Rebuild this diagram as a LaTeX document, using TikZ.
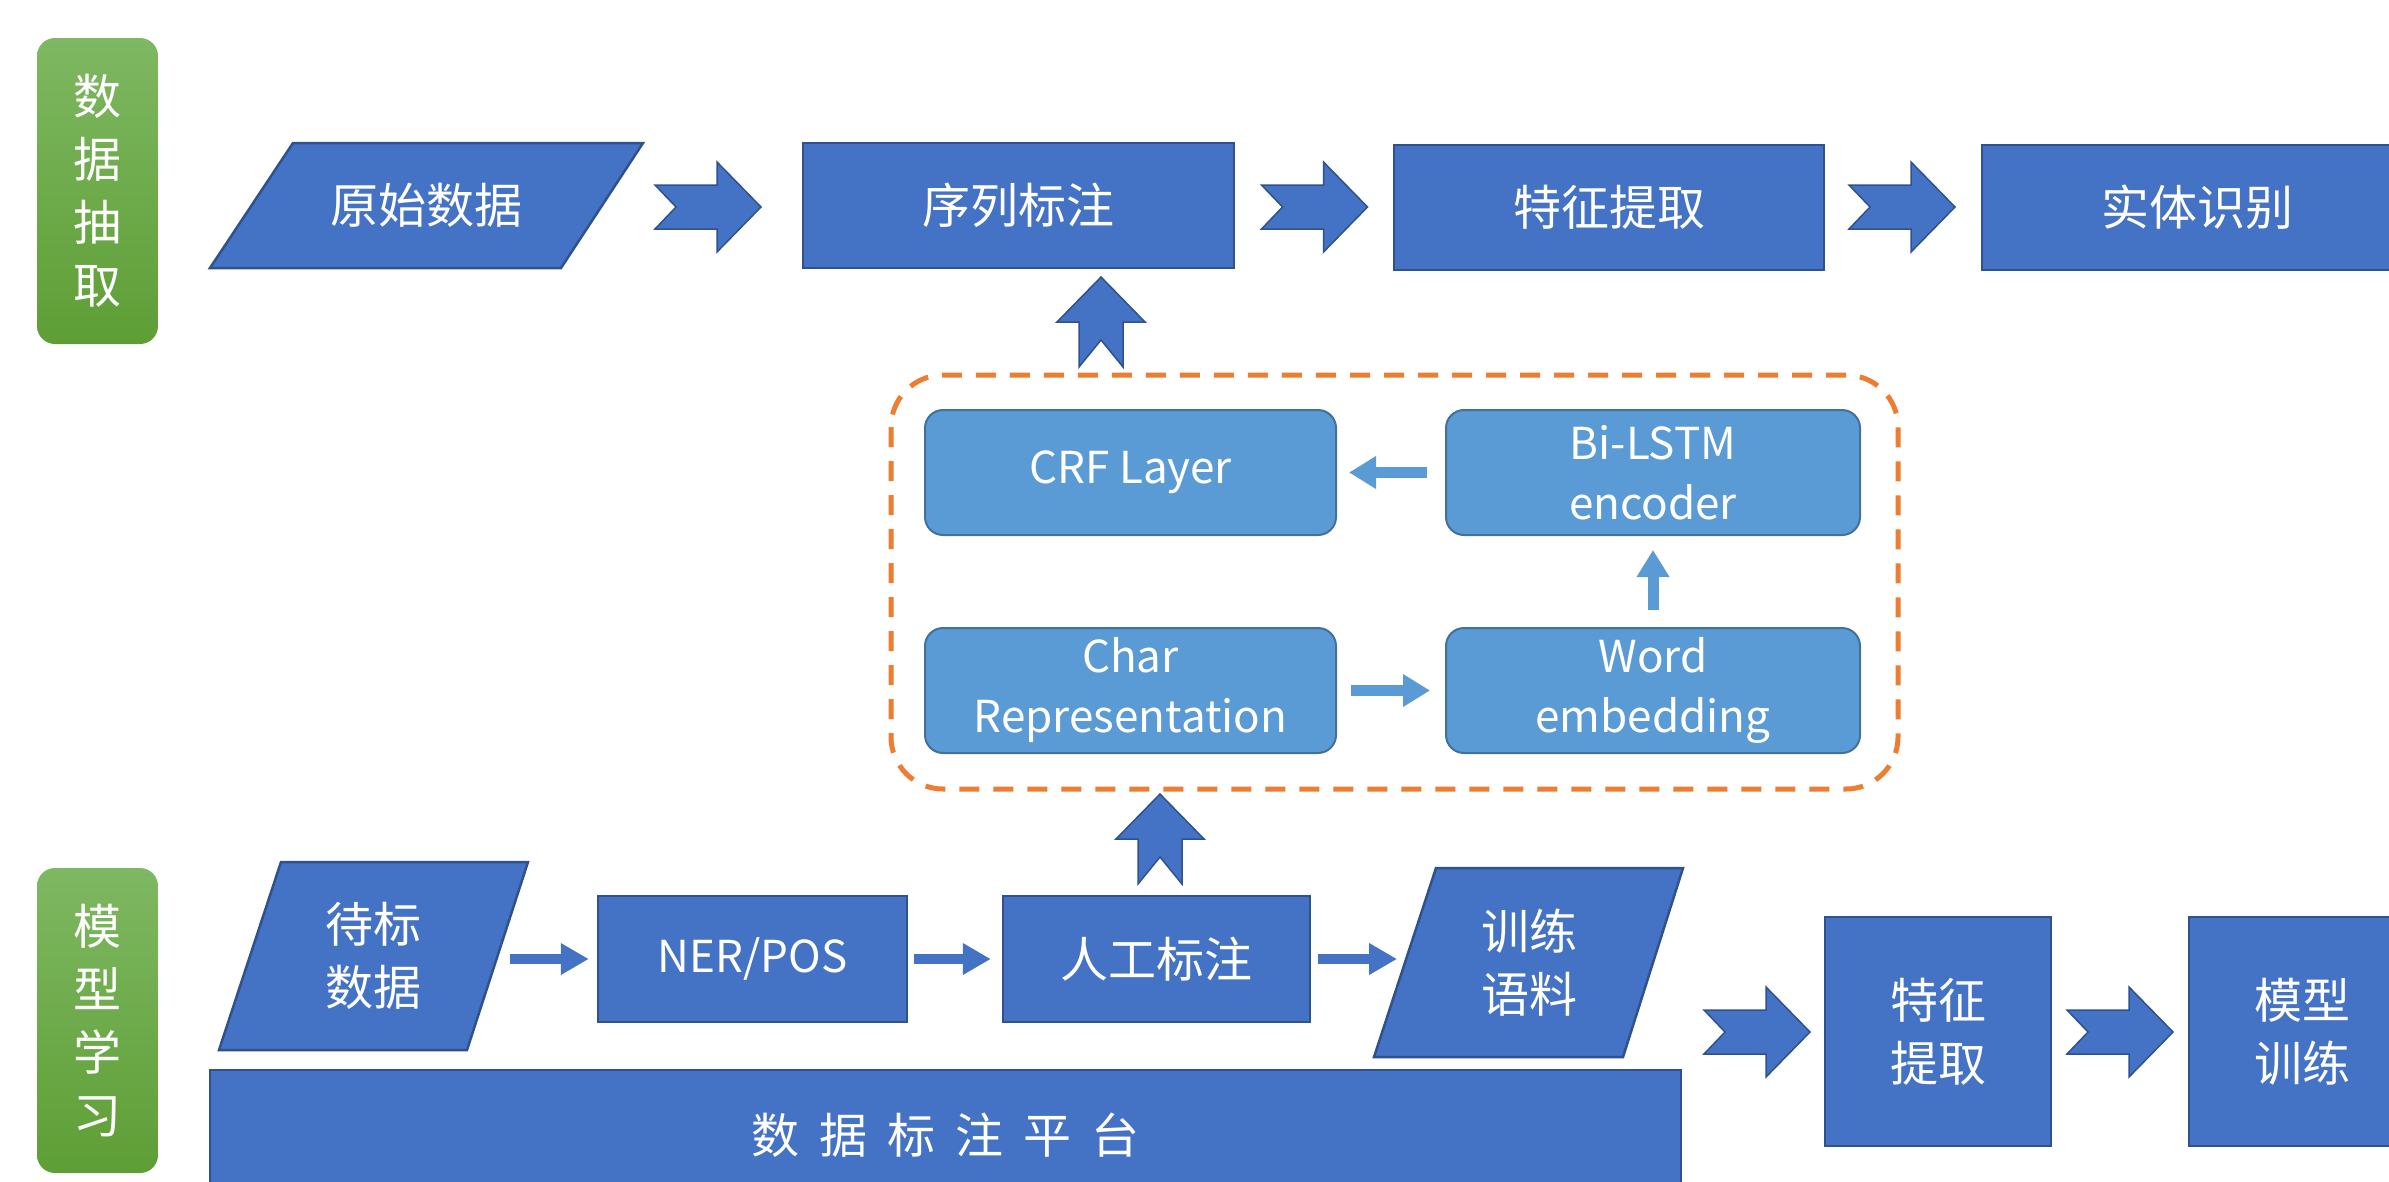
\documentclass[tikz,border=0pt]{standalone}
\usepackage{fontspec}
\setmainfont{Noto Sans CJK SC}
\usetikzlibrary{arrows.meta,calc}
\definecolor{dblue}{HTML}{4472C4}
\definecolor{dborder}{HTML}{2F528F}
\definecolor{lblue}{HTML}{5B9BD5}
\definecolor{lborder}{HTML}{41719C}
\definecolor{orng}{HTML}{ED7D31}
\definecolor{gtop}{HTML}{7EB862}
\definecolor{gbot}{HTML}{5E9E35}
\newcommand{\cjkbig}{\fontsize{48}{63}\selectfont}
\newcommand{\latinmid}{\fontsize{44}{60}\selectfont}
\begin{document}
\begin{tikzpicture}[x=1pt,y=-1pt,
  dbox/.style={draw=dborder, fill=dblue, line width=2.5pt, text=white, inner sep=0pt, align=center, font=\cjkbig},
  lbox/.style={draw=lborder, fill=lblue, line width=2pt, rounded corners=18pt, text=white, inner sep=0pt, align=center, font=\latinmid, minimum width=411pt, minimum height=125pt},
  gbox/.style={rounded corners=18pt, top color=gtop, bottom color=gbot, draw=none, text=white, inner sep=0pt, align=center, font=\cjkbig, minimum width=121pt, minimum height=306pt},
  pshape/.style={draw=dborder, fill=dblue, line width=2.5pt, line join=miter},
  ptext/.style={text=white, inner sep=0pt, align=center, font=\cjkbig},
  arrowshape/.style={draw=dborder, fill=dblue, line width=1.5pt, line join=miter},
  darr/.style={draw=dblue, line width=10pt, -{Triangle[length=28pt,width=30pt]}},
  larr/.style={draw=lblue, line width=11pt, -{Triangle[length=27pt,width=31pt]}},
  chevR/.pic={\filldraw[arrowshape] (-53,-22) -- (9,-22) -- (9,-45) -- (53,0) -- (9,45) -- (9,22) -- (-53,22) -- (-32,0) -- cycle;},
  notchUp/.pic={\filldraw[arrowshape] (-22,45) -- (-22,0) -- (-44,0) -- (0,-45) -- (44,0) -- (22,0) -- (22,45) -- (0,18) -- cycle;}
]
\useasboundingbox (0,0) rectangle (2389,1181);
\fill[white] (0,0) rectangle (2389,1181);

% ---------- top row ----------
\node[gbox] (g1) at (97.5,191) {数\\据\\抽\\取};

\filldraw[pshape] (210,268) -- (293,143) -- (643,143) -- (561,268) -- cycle;
\node[ptext] (p1) at (426.5,205.5) {原始数据};

\pic (c1) at (708,207) {chevR};
\node[dbox, minimum width=431pt, minimum height=125pt] (b1) at (1018.5,205.5) {序列标注};
\pic (c2) at (1314.5,207) {chevR};
\node[dbox, minimum width=430pt, minimum height=125pt] (b2) at (1609,207.5) {特征提取};
\pic (c3) at (1902,207) {chevR};
\node[dbox, minimum width=430pt, minimum height=125pt] (b3) at (2197,207.5) {实体识别};

\pic (u1) at (1101,322) {notchUp};

% ---------- model block ----------
\draw[orng, line width=5pt, dash pattern=on 20pt off 14pt, rounded corners=52pt] (891,375) rectangle (1898,789);
\node[lbox] (crf) at (1130.5,472.5) {CRF Layer};
\node[lbox, minimum width=414pt] (bil) at (1653,472.5) {Bi-LSTM\\encoder};
\node[lbox] (chr) at (1130.5,690.5) {Char\\Representation};
\node[lbox, minimum width=414pt] (wrd) at (1653,690.5) {Word\\embedding};
\draw[larr, shorten <=18pt, shorten >=12pt] (bil.west) -- (crf.east);
\draw[larr, shorten <=14pt, shorten >=15pt] (chr.east) -- (wrd.west);
\draw[larr, shorten <=17pt, shorten >=14pt] (wrd.north) -- (bil.south);

% ---------- bottom row ----------
\node[gbox, minimum height=305pt] (g2) at (97.5,1020.5) {模\\型\\学\\习};

\filldraw[pshape] (219,1050) -- (281,862) -- (528,862) -- (467,1050) -- cycle;
\node[ptext] (p2) at (373.5,956) {待标\\数据};
\coordinate (p2r) at (510,959);

\node[dbox, minimum width=309pt, minimum height=126pt, font=\latinmid] (ner) at (752.5,959) {NER/POS};
\node[dbox, minimum width=307pt, minimum height=126pt] (rg) at (1156.5,959) {人工标注};

\filldraw[pshape] (1374,1057) -- (1436,868) -- (1683,868) -- (1623,1057) -- cycle;
\node[ptext] (p3) at (1529,962.5) {训练\\语料};
\coordinate (p3l) at (1397,959);

\draw[darr, shorten >=8pt] (p2r) -- (ner.west);
\draw[darr, shorten <=6pt, shorten >=11pt] (ner.east) -- (rg.west);
\draw[darr, shorten <=7pt] (rg.east) -- (p3l);

\pic (u2) at (1160,839) {notchUp};

\pic (c4) at (1757,1032) {chevR};
\node[dbox, minimum width=226pt, minimum height=229pt] (b4) at (1938,1031.5) {特征\\提取};
\pic (c5) at (2120,1032) {chevR};
\node[dbox, minimum width=226pt, minimum height=229pt] (b5) at (2302,1031.5) {模型\\训练};

\node[dbox, minimum width=1471pt, minimum height=130pt] (bar) at (945.5,1135) {\spaceskip=20pt 数 据 标 注 平 台};
\end{tikzpicture}
\end{document}
